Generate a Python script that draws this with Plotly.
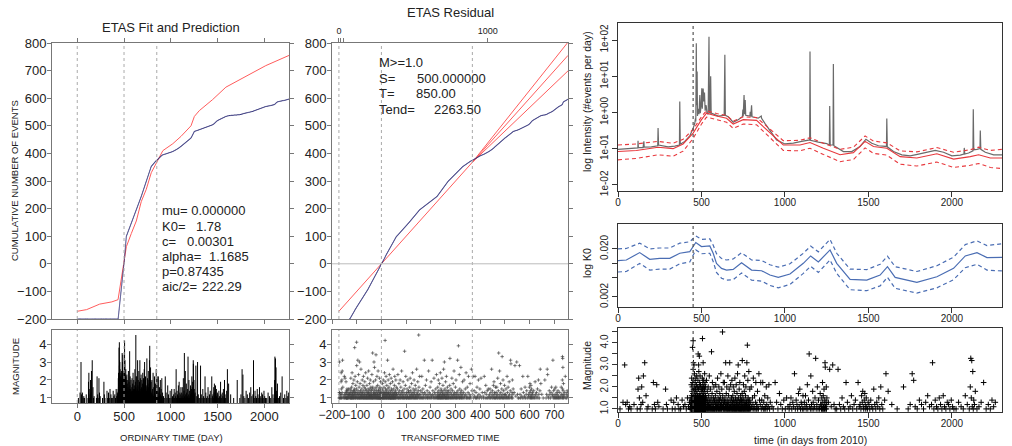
import numpy as np
import plotly.graph_objects as go

FONT = "Liberation Sans, Arial, Helvetica, sans-serif"
W, H = 1012, 446

# ---------------- event catalogue (time in days from 2010, magnitude) ----------------
t_pre = [12, 30, 40, 46, 55, 63, 70, 78, 96,
         115, 120, 124, 128, 133, 138, 142, 148, 152, 160,
         168, 174, 180, 205, 212, 218, 224, 232, 238, 245,
         270, 285, 290, 296, 318, 325, 334, 342, 350, 360,
         365, 375, 384, 392, 401, 409, 416, 422, 428, 432,
         435]
m_pre = [1.0, 1.3, 3.0, 1.2, 1.3, 1.0, 1.1, 1.0, 1.2,
         1.0, 1.9, 2.4, 1.5, 1.0, 1.2, 2.0, 1.3, 2.5, 3.1,
         1.6, 1.0, 1.1, 1.0, 2.2, 1.2, 1.0, 2.1, 1.3, 1.1,
         1.0, 1.9, 1.2, 1.0, 1.4, 1.0, 1.3, 1.0, 1.5, 1.2,
         1.0, 1.0, 1.4, 1.1, 1.2, 1.0, 1.5, 1.1, 1.3, 1.0,
         1.2]

t_swarm = [437.1, 437.5, 437.8, 438.0, 438.4, 438.7, 439.0, 439.4, 439.6, 439.9,
           440.3, 440.5, 440.9, 441.2, 441.4, 441.8, 442.1, 442.4, 442.7, 443.0,
           443.4, 443.6, 444.0, 444.3, 444.5, 444.9, 445.2, 445.5, 445.8, 446.1,
           446.4, 446.6, 446.9, 447.3, 447.6, 447.8, 448.2, 448.5, 448.8, 449.2,
           449.5, 449.7, 450.0, 450.2, 450.6, 450.9, 451.3, 451.5, 451.9, 452.2,
           452.5, 452.8, 453.1, 453.5, 453.7, 454.0, 454.4, 454.6, 455.0, 455.3,
           455.6, 455.9, 456.2, 456.6, 456.9, 457.1, 457.5, 457.8, 458.1, 458.4,
           458.7, 459.1, 459.3, 459.7, 460.0, 460.3, 460.6, 460.9, 461.3, 461.5,
           461.9, 462.2, 462.4, 462.8, 463.1, 463.4, 463.7, 464.0, 464.4, 464.6,
           465.0, 465.3, 465.5, 465.9, 466.2, 466.5, 466.8, 467.1, 467.5, 467.7,
           468.1, 468.4, 468.6, 469.0, 469.3, 469.6, 469.9, 470.2, 470.6, 470.8,
           471.2, 471.5, 471.7, 472.1, 472.4, 472.7, 473.0, 473.3, 473.7, 473.9,
           474.3, 474.6, 474.8, 475.2, 475.5, 475.8, 476.1, 476.4, 476.8, 477.0,
           477.4, 477.7, 477.9, 478.3, 478.6, 478.9, 479.2, 479.5, 479.9, 480.1,
           480.5, 480.8, 481.0, 481.4, 481.7, 482.0, 482.3, 482.6, 483.0, 483.2,
           483.6, 483.9, 484.1, 484.5, 484.8, 485.1, 485.4, 485.7, 486.1, 486.3,
           486.7, 487.0, 487.2, 487.6, 487.9, 488.2, 488.5, 488.8, 489.2, 489.4,
           489.8, 490.1, 490.3, 490.7, 491.0, 491.3, 491.6, 491.9, 492.3, 492.5,
           492.9, 493.2, 493.4, 493.8, 494.1, 494.4, 494.7, 495.0, 495.4, 495.6,
           496.0, 496.3, 496.5, 496.9, 497.2, 497.5, 497.8, 498.1, 498.5, 499.2]
m_swarm = [1.2, 1.0, 1.5, 1.1, 1.0, 1.3, 2.1, 1.0, 1.4, 1.2,
           1.0, 1.6, 1.1, 1.0, 2.4, 1.2, 1.0, 1.3, 1.1, 1.8,
           1.0, 1.2, 1.4, 1.0, 1.1, 2.0, 1.3, 1.0, 1.5, 1.2,
           3.8, 1.4, 1.0, 2.2, 1.1, 1.3, 1.0, 1.7, 1.2, 1.0,
           1.1, 1.5, 4.1, 2.8, 1.3, 1.0, 1.9, 1.2, 1.0, 3.1,
           1.4, 1.0, 1.2, 2.3, 1.1, 1.0, 1.6, 1.3, 1.0, 3.0,
           1.2, 1.0, 1.8, 1.1, 1.4, 1.0, 1.2, 2.6, 1.0, 1.3,
           1.1, 1.0, 1.5, 1.2, 2.0, 1.0, 1.3, 1.1, 1.7, 1.0,
           1.2, 2.2, 1.0, 1.4, 1.1, 1.0, 1.6, 1.2, 1.0, 1.9,
           1.3, 1.0, 1.1, 1.5, 2.4, 1.0, 1.2, 1.0, 1.4, 1.1,
           1.0, 1.7, 1.2, 1.0, 1.3, 2.1, 1.0, 1.1, 1.5, 1.2,
           1.0, 1.3, 2.5, 1.1, 1.0, 1.4, 1.2, 1.0, 1.8, 1.1,
           1.2, 1.0, 1.5, 2.0, 1.1, 1.0, 1.3, 1.6, 1.0, 1.2,
           1.1, 1.4, 1.0, 1.2, 2.3, 1.0, 1.1, 1.5, 1.0, 3.5,
           1.6, 1.0, 1.2, 1.1, 1.9, 1.0, 1.3, 1.2, 3.0, 1.4,
           1.0, 1.2, 2.7, 1.1, 1.0, 1.5, 1.3, 1.0, 1.2, 2.0,
           1.1, 1.0, 3.4, 1.6, 1.2, 1.0, 1.4, 1.1, 2.2, 1.0,
           1.3, 1.0, 1.2, 1.7, 1.0, 1.1, 2.5, 1.2, 1.0, 1.4,
           1.0, 1.5, 1.1, 1.0, 1.3, 2.1, 1.0, 1.2, 1.6, 1.0,
           1.2, 1.0, 1.4, 1.1, 1.9, 1.0, 1.3, 1.0, 1.2, 1.5]

t_burst = [500.2, 500.5, 500.7, 501.0, 501.2, 501.5, 501.7, 501.9, 502.2, 502.5,
           502.7, 503.0, 503.2, 503.4, 503.7, 504.0, 504.2, 504.4, 504.7, 505.0,
           505.2, 505.4, 505.7, 505.9, 506.0, 506.2, 506.4, 506.7, 506.9, 507.1,
           507.3, 507.6, 507.8, 508.1, 508.3, 508.5, 508.8, 509.1, 509.3, 509.5,
           509.8, 510.0, 510.3, 510.6, 510.8, 511.0, 511.3, 511.6, 511.8, 512.0,
           512.3, 512.6, 512.8, 513.0, 513.3, 513.6, 513.8, 514.0, 514.3, 514.6,
           514.8, 515.0, 515.3, 515.6, 515.8, 516.1, 516.3, 516.5, 516.8, 517.1,
           517.3, 517.5, 517.8, 518.1, 518.3, 518.6, 518.8, 519.0, 519.3, 519.6,
           519.8, 520.1, 520.3, 520.5, 520.8, 521.1, 521.3, 521.6, 521.8, 522.0,
           522.3, 522.6, 522.8, 523.1, 523.3, 523.5, 523.8, 524.1, 524.3, 524.6]
m_burst = [1.1, 1.0, 1.3, 1.5, 1.0, 1.2, 1.8, 1.0, 1.1, 1.4,
           1.0, 2.0, 1.2, 1.0, 1.3, 1.1, 1.6, 1.0, 1.2, 2.4,
           1.0, 1.3, 1.1, 1.0, 4.2, 1.9, 1.2, 1.5, 1.0, 1.3,
           1.1, 2.2, 1.0, 1.4, 1.2, 1.0, 1.7, 1.1, 1.0, 1.3,
           1.2, 3.1, 1.0, 1.5, 1.1, 2.0, 1.0, 1.3, 1.2, 1.0,
           1.6, 1.0, 1.2, 2.3, 1.1, 1.0, 1.4, 1.2, 1.0, 1.8,
           1.0, 1.3, 1.1, 1.0, 2.1, 1.2, 1.0, 1.5, 1.1, 1.0,
           1.4, 1.0, 1.2, 1.9, 1.0, 1.1, 1.3, 2.6, 1.0, 1.2,
           1.0, 1.5, 1.1, 1.0, 1.2, 1.7, 1.0, 1.3, 2.2, 1.1,
           1.0, 1.2, 1.4, 1.0, 1.1, 2.0, 1.3, 1.0, 1.6, 1.2]

t_main = [525.8, 527.0, 528.1, 529.0, 530.2, 531.5, 532.3, 533.6, 534.8, 535.7,
          536.9, 538.0, 539.2, 540.1, 541.4, 542.5, 543.3, 544.6, 545.8, 546.7,
          547.9, 549.0, 550.2, 551.3, 552.1, 553.4, 554.6, 555.5, 556.7, 557.8,
          559.0, 560.1, 561.3, 562.2, 563.5, 564.6, 565.4, 566.7, 567.9, 568.8,
          570.0, 571.2, 572.3, 573.1, 574.4, 575.6, 576.5, 577.7,
          578.9, 580.0, 581.2, 582.1, 583.3, 584.5, 585.4, 586.6, 587.8, 588.7,
          589.9, 591.0, 592.2, 593.1, 594.3, 595.5, 596.4, 597.6, 598.8, 599.7,
          600.9, 602.0, 603.2, 604.1, 605.3, 606.5, 607.4, 608.6, 609.8, 610.7,
          611.9, 613.0, 614.2, 615.1, 616.3, 617.5, 618.4, 619.6, 620.8, 621.7,
          622.9, 624.0, 625.2, 626.1, 627.3, 628.5, 629.4, 630.6,
          631.8, 632.9, 634.1, 635.0, 636.2, 637.4, 638.3, 639.5, 640.7, 641.6,
          642.8, 643.9, 645.1, 646.0, 647.2, 648.4, 649.3, 650.5, 651.7, 652.6,
          653.8, 654.9, 656.1, 657.0, 658.2, 659.4, 660.3, 661.5, 662.7, 663.6,
          664.8, 665.9, 667.1, 668.0, 669.2, 670.4, 671.3, 672.5, 673.7, 674.6,
          675.8, 676.9, 678.1, 679.0, 680.2, 681.4, 682.3, 683.5,
          684.6, 685.5, 686.5, 687.6, 688.4, 689.5, 690.4, 691.4, 692.5, 693.3,
          694.4, 695.3, 696.3, 697.4, 698.2, 699.3, 700.2, 701.2, 702.3, 703.1,
          704.2, 705.1, 706.1, 707.2, 708.0, 709.1, 710.0, 711.0, 712.1, 712.9,
          714.0, 714.9, 715.9, 717.0, 717.8, 718.9, 719.8, 720.8, 721.9, 722.7,
          723.8, 724.7, 725.7, 726.8, 727.6, 728.7, 729.6, 730.6, 731.7, 732.5,
          733.6, 734.5, 735.5, 736.6, 737.4,
          738.6, 739.5, 740.5, 741.6, 742.4, 743.5, 744.4, 745.4, 746.5, 747.3,
          748.4, 749.3, 750.3, 751.4, 752.2, 753.3, 754.2, 755.2, 756.3, 757.1,
          758.2, 759.1, 760.1, 761.2, 762.0, 763.1, 764.0, 765.0, 766.1, 766.9,
          768.0, 768.9, 769.9, 771.0, 771.8, 772.9, 773.8, 774.8, 775.9, 776.7,
          777.8, 778.7, 779.7, 780.8, 781.6, 782.7, 783.6, 784.6, 785.7, 786.5,
          787.6, 788.5, 789.5, 790.5]
m_main = [1.2, 1.0, 1.5, 1.1, 2.3, 1.0, 1.3, 1.0, 1.8, 1.2,
          1.0, 1.4, 1.1, 2.0, 1.0, 1.2, 1.6, 1.0, 1.3, 2.5,
          1.1, 1.0, 1.4, 1.2, 1.0, 1.9, 1.1, 1.0, 1.3, 1.5,
          1.0, 3.6, 1.2, 1.0, 1.7, 1.1, 2.2, 1.0, 1.3, 1.0,
          1.2, 1.5, 1.0, 1.1, 2.0, 1.3, 1.0, 1.4,
          1.0, 1.3, 1.1, 1.0, 1.6, 1.2, 2.1, 1.0, 1.4, 1.1,
          1.0, 1.2, 1.8, 1.0, 1.3, 1.1, 2.4, 1.0, 1.2, 1.5,
          1.1, 1.0, 1.3, 2.0, 1.0, 1.2, 1.4, 1.0, 1.7, 1.1,
          1.0, 1.5, 1.2, 1.0, 2.6, 1.1, 1.3, 1.0, 1.2, 1.9,
          1.0, 1.4, 1.1, 4.5, 1.6, 1.2, 1.0, 2.2,
          1.2, 1.0, 1.4, 1.1, 1.0, 2.2, 1.3, 1.0, 1.5, 1.2,
          1.0, 1.1, 3.1, 1.3, 1.0, 1.7, 1.2, 1.0, 2.0, 1.1,
          1.4, 1.0, 1.2, 1.0, 2.5, 1.1, 1.3, 1.0, 1.6, 1.2,
          1.0, 1.9, 1.1, 1.0, 3.1, 1.2, 1.4, 1.0, 1.1, 2.1,
          1.0, 1.3, 1.2, 1.0, 1.5, 1.1, 2.3, 1.0,
          1.0, 1.3, 1.1, 1.6, 1.0, 1.2, 2.0, 1.0, 1.4, 1.1,
          1.2, 1.0, 1.8, 1.1, 1.0, 1.3, 2.4, 1.0, 1.2, 1.5,
          1.0, 1.1, 1.4, 1.0, 2.1, 1.2, 1.0, 1.3, 1.1, 1.7,
          1.0, 1.2, 2.6, 1.0, 1.4, 1.1, 3.0, 1.2, 1.0, 1.5,
          1.1, 1.0, 1.9, 1.3, 1.0, 1.2, 2.2, 1.0, 1.1, 1.4,
          1.0, 1.6, 1.2, 1.0, 1.3,
          1.1, 1.0, 1.4, 1.2, 1.0, 1.7, 3.2, 1.1, 1.0, 1.3,
          1.5, 1.0, 1.2, 2.1, 1.0, 1.1, 1.4, 1.0, 1.8, 1.2,
          1.0, 2.5, 1.1, 1.3, 1.0, 1.2, 1.6, 1.0, 2.0, 1.1,
          1.0, 1.3, 1.2, 1.0, 3.1, 1.4, 1.1, 3.9, 1.0, 1.2,
          2.3, 1.0, 1.5, 1.1, 1.0, 1.3, 2.7, 1.2, 1.0, 1.4,
          1.1, 1.0, 1.9, 1.2]

t_late = [793, 795.5, 798, 800.6, 803, 805.4, 808, 810.5, 813, 815.6,
          818, 820.5, 823, 825.6, 828, 830.7, 833, 835.5, 838, 841, 844, 847.5,
          852, 855, 858, 861, 864, 867, 870, 873, 876, 879,
          882, 885, 888, 891, 894, 897, 900, 904, 908, 912,
          922, 930, 941, 950, 958, 967, 975, 984, 993, 1002, 1010, 1018,
          1025, 1030, 1036, 1041, 1047, 1052, 1057, 1062, 1067, 1072,
          1076, 1081, 1085, 1089, 1093, 1097, 1101, 1104, 1108,
          1113, 1116, 1120, 1123, 1127, 1130, 1134, 1137, 1141, 1145,
          1148, 1152, 1155, 1159, 1162, 1166, 1169, 1173, 1176, 1180,
          1184, 1187, 1191, 1194, 1198, 1201, 1205, 1208, 1211, 1214,
          1217.5, 1219, 1220.5, 1222, 1223.5, 1225, 1226.5, 1228, 1229.5, 1231,
          1232.5, 1234, 1235.5, 1237, 1238.5, 1240, 1241.5, 1243, 1244.5, 1246,
          1247.5, 1249, 1250, 1251,
          1260, 1268, 1277, 1286, 1294, 1301,
          1310, 1318, 1326, 1334, 1342, 1350, 1358, 1366, 1374, 1382,
          1390, 1398, 1406, 1414, 1422, 1430, 1438, 1445,
          1450, 1455, 1459, 1463, 1466, 1469, 1472, 1475, 1478, 1481,
          1484, 1487, 1490, 1494, 1498, 1503, 1508, 1514, 1520, 1526,
          1532, 1538, 1544, 1550, 1556, 1562, 1568, 1574, 1580, 1586,
          1597, 1605, 1618, 1640, 1672, 1710,
          1738, 1750, 1762, 1771, 1780, 1792, 1805, 1818, 1830, 1843, 1855, 1866,
          1878, 1884, 1892, 1900, 1908, 1916, 1924, 1932, 1940, 1948,
          1956, 1964, 1972, 1980, 1988, 1996, 2004, 2012,
          2025, 2040, 2055, 2068, 2080, 2092, 2104, 2110, 2113, 2116,
          2119, 2122, 2125, 2128, 2131, 2135, 2140, 2150, 2162, 2175,
          2190, 2205, 2218, 2230, 2240, 2250, 2260]
m_late = [1.0, 1.3, 2.0, 1.1, 1.0, 1.5, 1.2, 2.4, 1.0, 1.1,
          1.6, 1.0, 1.3, 2.2, 1.0, 1.2, 1.0, 1.8, 1.1, 1.0, 2.6, 1.4,
          1.2, 2.2, 1.0, 1.4, 1.1, 2.2, 1.0, 1.3, 1.0, 1.6,
          1.1, 1.0, 2.0, 1.2, 1.0, 1.5, 1.1, 2.1, 1.0, 1.3,
          1.1, 1.0, 2.2, 1.3, 1.0, 1.7, 1.2, 1.0, 1.4, 1.0, 1.5, 1.1,
          1.0, 1.2, 1.5, 1.0, 1.3, 1.1, 2.6, 1.0, 1.4, 1.2,
          1.0, 1.7, 1.1, 1.9, 1.0, 1.3, 1.2, 1.0, 1.6,
          1.0, 1.3, 1.1, 1.6, 1.0, 1.2, 2.1, 1.0, 1.4, 3.5,
          1.1, 1.0, 2.5, 1.2, 1.0, 1.8, 1.3, 1.0, 1.1, 1.5,
          3.3, 1.0, 1.2, 2.0, 1.0, 1.4, 1.1, 1.0, 1.7, 1.2,
          1.2, 1.0, 1.5, 1.1, 1.0, 2.2, 1.3, 1.0, 1.6, 1.1,
          1.0, 1.9, 1.2, 1.0, 1.4, 3.1, 2.9, 1.1, 1.0, 1.3,
          2.0, 1.0, 1.2, 1.5,
          1.3, 2.8, 1.1, 3.0, 1.2, 1.0,
          1.0, 2.8, 1.2, 1.0, 1.5, 1.1, 1.0, 2.2, 1.3, 1.0,
          1.1, 1.6, 1.0, 1.2, 1.4, 1.0, 2.2, 1.1,
          1.2, 1.0, 1.6, 1.3, 1.8, 1.1, 1.0, 1.4, 1.7, 1.2,
          1.0, 1.5, 1.1, 1.0, 1.3, 1.2, 1.0, 1.4, 1.1, 1.0,
          1.9, 1.2, 1.0, 1.3, 1.1, 1.5, 1.0, 2.0, 1.2, 1.0,
          1.4, 2.6, 1.8, 1.2, 1.0, 2.0,
          1.0, 1.2, 2.6, 2.3, 1.1, 1.0, 1.4, 1.2, 1.0, 1.3, 1.6, 1.1,
          1.2, 3.1, 1.0, 1.4, 1.1, 1.0, 1.5, 1.2, 1.0, 1.6,
          1.1, 1.0, 1.3, 1.2, 1.0, 1.4, 1.1, 1.0,
          1.0, 1.3, 1.1, 1.0, 1.6, 1.2, 1.0, 2.0, 3.3, 1.5,
          3.2, 1.1, 2.7, 1.0, 1.4, 1.2, 1.8, 1.0, 1.1, 1.3,
          2.2, 1.0, 1.2, 1.0, 1.4, 1.1, 1.3]

# fitted ETAS compensator (expected cumulative number, relative to S)
lam_t = [0, 100, 240, 370, 436, 448, 470, 496, 500, 525, 578, 631, 684, 738, 791, 850,
         915, 1021, 1110, 1216, 1252, 1305, 1447, 1589, 1731, 1873, 2015, 2263.5]
lam_v = [-172, -166, -146, -138, -130, -105, -55, -5, 0, 62, 110, 155, 225, 270, 330, 368,
         410, 435, 462, 500, 534, 555, 595, 640, 665, 692, 718, 755]

# model parameters / constants
S_TIME, T_TIME, T_END = 500.0, 850.0, 2263.5
RES_X_START = -200       # left end of transformed-time axis
RES_X_END = 755          # right end of transformed-time axis
RES_UPPER_END = 803      # upper bound line value at RES_X_END
RES_LOWER_END = 699      # lower bound line value at RES_X_END
top_tick_times = [0, 100, 200, 1000]
top_tick_labels = ["0", "", "", "1000"]
fit_marks = [0, 500, 850]

# right panels: intensity (log10, events/day)
gray_t = [0, 60, 110, 119, 120, 122, 150, 155, 157, 200, 238, 240, 243, 300, 340, 368, 370, 373,
          400, 430, 450, 460, 464, 466, 469, 471, 474, 476, 480, 485, 490, 493, 498, 502, 505,
          510, 514, 518, 522, 528, 533, 540, 545, 548, 552, 555, 558, 600, 636, 640, 643, 660,
          690, 720, 745, 748, 750, 755, 758, 762, 765, 790, 792, 795, 800, 803, 840, 858, 860,
          880, 910, 950, 1000, 1050, 1100, 1148, 1150, 1153, 1200, 1250, 1266, 1268, 1271,
          1288, 1290, 1293, 1350, 1400, 1450, 1485, 1520, 1560, 1608, 1610, 1613, 1650, 1700,
          1750, 1800, 1900, 1950, 2000, 2050, 2072, 2074, 2077, 2100, 2126, 2128, 2131, 2150,
          2168, 2170, 2173, 2200, 2250, 2300]
gray_lv = [-1.02, -1.01, -1.0, -0.98, -0.78, -0.97, -0.97, -0.8, -0.96, -0.95, -0.92, -0.43,
           -0.9, -0.95, -0.93, -0.9, 0.30, -0.88, -0.8, -0.65, -0.44, -0.3, -0.16, -0.25, 1.91,
           0.2, 1.13, -0.1, 0.1, -0.05, 0.48, -0.02, 0.2, 0.67, 0.1, 0.66, 0.3, 0.55, 0.05, 0.2,
           -0.02, -0.05, 2.09, 0.0, -0.03, 1.0, -0.02, -0.1, -0.08, 1.59, -0.08, -0.12, -0.27,
           -0.2, -0.12, 0.08, -0.1, 0.48, -0.05, 0.34, -0.08, -0.1, 0.02, -0.12, 0.2, -0.12,
           -0.16, -0.1, -0.16, -0.3, -0.5, -0.76, -0.87, -0.85, -0.8, -0.76, 1.68, -0.77, -0.82,
           -0.86, -0.9, 0.18, -0.9, -0.9, 1.34, -0.92, -1.08, -1.08, -0.94, -0.74, -0.85, -0.92,
           -0.94, -0.17, -0.95, -1.08, -1.17, -1.2, -1.15, -1.05, -1.1, -1.2, -1.18, -1.15, -0.98,
           -1.15, -1.12, -1.06, 0.09, -1.03, -1.02, -1.0, -0.5, -1.02, -1.1, -1.17, -1.17]
mu_t = [0, 110, 240, 330, 390, 450, 500, 530, 590, 650, 690, 750, 830, 910, 990, 1090, 1150,
        1230, 1330, 1410, 1480, 1530, 1610, 1690, 1790, 1910, 2010, 2110, 2160, 2230, 2300]
mu_lv = [-1.08, -1.05, -0.96, -1.0, -0.87, -0.57, -0.2, -0.02, -0.1, -0.16, -0.32, -0.2, -0.22,
         -0.57, -0.9, -0.9, -0.83, -0.99, -1.17, -1.11, -0.8, -0.94, -0.99, -1.22, -1.26, -1.14,
         -1.29, -1.22, -1.17, -1.26, -1.26]
mu_hi_lv = [-0.9, -0.87, -0.8, -0.85, -0.74, -0.47, -0.12, 0.05, -0.03, -0.08, -0.24, -0.12,
            -0.14, -0.47, -0.78, -0.77, -0.7, -0.85, -1.02, -0.96, -0.65, -0.79, -0.84, -1.06,
            -1.09, -0.97, -1.1, -1.03, -0.96, -1.05, -1.02]
mu_lo_lv = [-1.31, -1.27, -1.17, -1.21, -1.07, -0.72, -0.32, -0.13, -0.2, -0.27, -0.44, -0.32,
            -0.34, -0.7, -1.05, -1.06, -0.99, -1.16, -1.36, -1.3, -0.98, -1.13, -1.18, -1.43,
            -1.48, -1.37, -1.52, -1.46, -1.41, -1.52, -1.55]

# K0 (log10)
k0_t = [0, 50, 130, 190, 250, 310, 370, 430, 466, 500, 550, 570, 590, 620, 650, 690, 740, 800,
        860, 910, 960, 1030, 1110, 1154, 1200, 1270, 1310, 1390, 1490, 1570, 1614, 1660, 1790,
        1910, 2010, 2080, 2150, 2210, 2304]
k0_lv = [-1.944, -1.930, -1.776, -1.916, -1.895, -1.895, -1.790, -1.755, -1.566, -1.650, -1.636,
         -1.790, -2.000, -2.105, -2.140, -2.126, -1.986, -2.140, -2.154, -2.244, -2.293, -2.223,
         -2.000, -1.846, -1.972, -1.720, -2.000, -2.335, -2.349, -2.244, -2.070, -2.293, -2.398,
         -2.279, -2.105, -1.846, -1.776, -1.881, -1.874]
k0_hi_lv = [-1.70, -1.69, -1.58, -1.70, -1.68, -1.68, -1.58, -1.55, -1.43, -1.50, -1.49, -1.62,
            -1.80, -1.90, -1.93, -1.91, -1.78, -1.93, -1.94, -2.03, -2.08, -2.01, -1.79, -1.64,
            -1.76, -1.50, -1.79, -2.12, -2.13, -2.02, -1.85, -2.07, -2.17, -2.05, -1.87, -1.61,
            -1.53, -1.63, -1.59]
k0_lo_lv = [-2.18, -2.17, -2.00, -2.14, -2.12, -2.12, -2.01, -1.97, -1.72, -1.80, -1.79, -1.96,
            -2.19, -2.31, -2.35, -2.34, -2.20, -2.35, -2.37, -2.46, -2.51, -2.44, -2.21, -2.06,
            -2.19, -1.93, -2.21, -2.55, -2.57, -2.47, -2.29, -2.52, -2.62, -2.51, -2.34, -2.09,
            -2.02, -2.14, -2.16]
change_point = 450

# ---------------- derived series ----------------
times = np.array(t_pre + t_swarm + t_burst + t_main + t_late, dtype=float)
mags = np.array(m_pre + m_swarm + m_burst + m_main + m_late, dtype=float)
assert len(times) == len(mags), (len(times), len(mags))
order = np.argsort(times, kind="stable")
times, mags = times[order], mags[order]
n = len(times)
n_rel = np.arange(1, n + 1) - np.sum(times <= S_TIME)
tau = np.interp(times, lam_t, lam_v)

# ---------------- geometry ----------------
def xdom(a, b):
    return [a / W, b / W]

def ydom(top, bot):
    return [1 - bot / H, 1 - top / H]

LEFT_X, MID_X, RIGHT_X = (52, 289), (332, 568), (618, 1002)
TOP_Y, BOT_Y = (43, 319), (330, 403)
E_Y, F_Y, G_Y = (23, 191), (224, 307), (328, 412)

RED_L, BLUE_L = "#ff5c5c", "#2f2f78"
RED_R, BLUE_R, GRAY_R = "#e8383d", "#4a6db3", "#6a6a6a"
RES_RANGE = [RES_X_START, RES_X_END]

fig = go.Figure()

# A: cumulative vs ordinary time
fig.add_trace(go.Scatter(x=lam_t, y=lam_v, mode="lines", line=dict(color=RED_L, width=1),
                         xaxis="x", yaxis="y", hoverinfo="skip"))
a_x = np.concatenate([[0], times, [T_END]])
a_y = np.concatenate([[n_rel[0] - 1], n_rel, [n_rel[-1]]])
fig.add_trace(go.Scatter(x=a_x, y=np.maximum(a_y, -200), mode="lines", line_shape="hv",
                         line=dict(color=BLUE_L, width=1), xaxis="x", yaxis="y", hoverinfo="skip"))

# B: magnitude bars vs ordinary time
bx = np.repeat(times, 3).astype(object)
bx[2::3] = None
by = np.column_stack([np.zeros(n), mags, np.zeros(n)]).ravel().astype(object)
by[2::3] = None
fig.add_trace(go.Scatter(x=bx, y=by, mode="lines", line=dict(color="black", width=1),
                         xaxis="x2", yaxis="y2", hoverinfo="skip"))

# C: cumulative vs transformed time
tau0 = float(np.interp(0, lam_t, lam_v))
tauT = float(np.interp(T_TIME, lam_t, lam_v))
fig.add_trace(go.Scatter(x=[tau0, RES_X_END], y=[tau0, RES_X_END], mode="lines",
                         line=dict(color=RED_L, width=1), xaxis="x3", yaxis="y3", hoverinfo="skip"))
for yend in (RES_UPPER_END, RES_LOWER_END):
    fig.add_trace(go.Scatter(x=[tauT, RES_X_END], y=[tauT, yend], mode="lines",
                             line=dict(color=RED_L, width=1), xaxis="x3", yaxis="y3",
                             hoverinfo="skip"))
c_x = np.concatenate([[tau0], tau])
c_y = np.concatenate([[n_rel[0] - 1], n_rel])
fig.add_trace(go.Scatter(x=c_x, y=c_y, mode="lines", line_shape="hv",
                         line=dict(color=BLUE_L, width=1), xaxis="x3", yaxis="y3", hoverinfo="skip"))
top_pos = np.interp(top_tick_times, lam_t, lam_v)
fig.add_trace(go.Scatter(x=[top_pos[0]], y=[0], mode="markers", marker=dict(opacity=0),
                         xaxis="x4", yaxis="y3", hoverinfo="skip"))

# D: magnitude vs transformed time
fig.add_trace(go.Scatter(x=tau, y=mags, mode="markers",
                         marker=dict(symbol="cross-thin", size=2.5, color="#444",
                                     line=dict(width=0.7, color="#444")),
                         xaxis="x5", yaxis="y5", hoverinfo="skip"))

# E: intensity
def p10(v):
    return np.power(10.0, np.array(v, dtype=float))

fig.add_trace(go.Scatter(x=gray_t, y=p10(gray_lv), mode="lines", line=dict(color=GRAY_R, width=1.2),
                         xaxis="x6", yaxis="y6", hoverinfo="skip"))
fig.add_trace(go.Scatter(x=mu_t, y=p10(mu_lv), mode="lines", line=dict(color=RED_R, width=1.1),
                         xaxis="x6", yaxis="y6", hoverinfo="skip"))
for arr in (mu_hi_lv, mu_lo_lv):
    fig.add_trace(go.Scatter(x=mu_t, y=p10(arr), mode="lines",
                             line=dict(color=RED_R, width=1.1, dash="4px,3px"),
                             xaxis="x6", yaxis="y6", hoverinfo="skip"))

# F: K0
fig.add_trace(go.Scatter(x=k0_t, y=p10(k0_lv), mode="lines", line=dict(color=BLUE_R, width=1.2),
                         xaxis="x7", yaxis="y7", hoverinfo="skip"))
for arr in (k0_hi_lv, k0_lo_lv):
    fig.add_trace(go.Scatter(x=k0_t, y=p10(arr), mode="lines",
                             line=dict(color=BLUE_R, width=1.2, dash="4px,3px"),
                             xaxis="x7", yaxis="y7", hoverinfo="skip"))

# G: magnitudes
fig.add_trace(go.Scatter(x=times, y=mags, mode="markers",
                         marker=dict(symbol="cross-thin", size=4, color="black",
                                     line=dict(width=1, color="black")),
                         xaxis="x8", yaxis="y8", hoverinfo="skip"))

# ---------------- axes ----------------
LCOL = "#777"
left_common = dict(showline=True, linecolor=LCOL, linewidth=1, ticks="outside", ticklen=4,
                   tickcolor=LCOL, showgrid=False, zeroline=False, automargin=False,
                   tickangle=0, tickfont=dict(family=FONT, size=13, color="#222"))
right_common = dict(showline=True, linecolor="#333", linewidth=1, mirror=True, ticks="outside",
                    ticklen=5, tickcolor="#333", showgrid=False, zeroline=False, automargin=False,
                    tickfont=dict(family=FONT, size=10, color="#222"))

ord_ticks = [0, 500, 1000, 1500, 2000]
tr_ticks = list(range(-200, 701, 100))
cum_ticks = list(range(-200, 801, 100))

layout = dict(template="none", width=W, height=H, margin=dict(l=0, r=0, t=0, b=0, pad=0),
              paper_bgcolor="white", plot_bgcolor="white", showlegend=False,
              font=dict(family=FONT, color="#222"))

layout["xaxis"] = dict(left_common, domain=xdom(*LEFT_X), anchor="y", range=[-270, T_END],
                       tickvals=ord_ticks, showticklabels=False, mirror="ticks")
layout["yaxis"] = dict(left_common, domain=ydom(*TOP_Y), anchor="x", range=[-200, 800],
                       tickvals=cum_ticks, mirror="ticks", ticklabelstandoff=-2)
layout["xaxis2"] = dict(left_common, domain=xdom(*LEFT_X), anchor="y2", range=[-270, T_END],
                        tickvals=ord_ticks, mirror=True, ticklabelstandoff=-3)
layout["yaxis2"] = dict(left_common, domain=ydom(*BOT_Y), anchor="x2", range=[0.72, 4.78],
                        tickvals=[1, 2, 3, 4], mirror="ticks", ticklabelstandoff=-2)
layout["xaxis3"] = dict(left_common, domain=xdom(*MID_X), anchor="y3", range=RES_RANGE,
                        tickvals=tr_ticks, showticklabels=False, mirror=True)
layout["yaxis3"] = dict(left_common, domain=ydom(*TOP_Y), anchor="x3", range=[-200, 800],
                        tickvals=cum_ticks, mirror="ticks", ticklabelstandoff=-2)
layout["xaxis4"] = dict(overlaying="x3", side="top", anchor="y3", range=RES_RANGE,
                        tickvals=list(top_pos), ticktext=top_tick_labels, ticks="outside",
                        ticklen=4, tickcolor=LCOL, showline=False, showgrid=False, zeroline=False,
                        automargin=False, tickangle=0,
                        tickfont=dict(family=FONT, size=9, color="#222"))
layout["xaxis5"] = dict(left_common, domain=xdom(*MID_X), anchor="y5", range=RES_RANGE,
                        tickvals=tr_ticks, mirror=True, ticklabelstandoff=-3,
                        tickfont=dict(family=FONT, size=12, color="#222"))
layout["yaxis5"] = dict(left_common, domain=ydom(*BOT_Y), anchor="x5", range=[0.72, 4.78],
                        tickvals=[1, 2, 3, 4], mirror="ticks", ticklabelstandoff=-2)

layout["xaxis6"] = dict(right_common, domain=xdom(*RIGHT_X), anchor="y6", range=[0, 2300],
                        tickvals=ord_ticks, tickangle=0, ticklabelstandoff=-3)
layout["yaxis6"] = dict(right_common, domain=ydom(*E_Y), anchor="x6", type="log",
                        range=[-2.17, 2.47], tickvals=[0.01, 0.1, 1, 10, 100],
                        ticktext=["1e-02", "1e-01", "1e+00", "1e+01", "1e+02"], tickangle=-90)
layout["xaxis7"] = dict(right_common, domain=xdom(*RIGHT_X), anchor="y7", range=[0, 2300],
                        tickvals=ord_ticks, tickangle=0, ticklabelstandoff=-3)
layout["yaxis7"] = dict(right_common, domain=ydom(*F_Y), anchor="x7", type="log",
                        range=[-2.91, -1.18], tickvals=[0.002, 0.005, 0.01, 0.02],
                        ticktext=["0.002", "", "", "0.020"], tickangle=-90)
layout["xaxis8"] = dict(right_common, domain=xdom(*RIGHT_X), anchor="y8", range=[0, 2300],
                        tickvals=ord_ticks, tickangle=0, ticklabelstandoff=-3)
layout["yaxis8"] = dict(right_common, domain=ydom(*G_Y), anchor="x8", range=[0.86, 4.68],
                        tickvals=[1, 1.5, 2, 2.5, 3, 3.5, 4, 4.5],
                        ticktext=["1.0", "", "2.0", "", "3.0", "", "4.0", ""], tickangle=-90)

# ---------------- reference lines ----------------
shapes = []
for xr, yr in (("x", "y"), ("x2", "y2")):
    for v in fit_marks:
        shapes.append(dict(type="line", xref=xr, yref=yr + " domain", x0=v, x1=v, y0=0, y1=1,
                           line=dict(color="#aaa", width=1, dash="dot")))
tr_marks = np.interp(fit_marks, lam_t, lam_v)
for xr, yr in (("x3", "y3"), ("x5", "y5")):
    for v in tr_marks:
        shapes.append(dict(type="line", xref=xr, yref=yr + " domain", x0=float(v), x1=float(v),
                           y0=0, y1=1, line=dict(color="#aaa", width=1, dash="dot")))
shapes.append(dict(type="line", xref="x3 domain", yref="y3", x0=0, x1=1, y0=0, y1=0,
                   line=dict(color="#bbb", width=1)))
for xr, yr in (("x6", "y6"), ("x7", "y7"), ("x8", "y8")):
    shapes.append(dict(type="line", xref=xr, yref=yr + " domain", x0=change_point,
                       x1=change_point, y0=0, y1=1, line=dict(color="#555", width=1.2, dash="dot")))
layout["shapes"] = shapes

# ---------------- text ----------------
ann = []

def text(px, py, s, size=13, xanchor="left", angle=0, color="#222"):
    ann.append(dict(x=px / W, y=1 - py / H, xref="paper", yref="paper", text=s, showarrow=False,
                    xanchor=xanchor, yanchor="middle", textangle=angle,
                    font=dict(family=FONT, size=size, color=color)))

text(171, 28, "ETAS Fit and Prediction", 13, "center")
text(450, 13, "ETAS Residual", 13, "center")
text(15, 181, "CUMULATIVE NUMBER OF EVENTS", 9.5, "center", -90)
text(15, 367, "MAGNITUDE", 9.5, "center", -90)
text(171, 437, "ORDINARY TIME (DAY)", 9.5, "center")
text(450, 437, "TRANSFORMED TIME", 9.5, "center")

text(160, 211, "mu= 0.000000")
text(160, 226, "K0=")
text(194, 226, "1.78")
text(160, 241, "c=")
text(185, 241, "0.00301")
text(160, 256, "alpha=")
text(207, 256, "1.1685")
text(160, 271, "p=0.87435")
text(160, 286, "aic/2=")
text(200, 286, "222.29")

text(377, 63, "M>=1.0")
text(377, 79, "S=")
text(415, 79, "500.000000")
text(377, 94, "T=")
text(414, 94, "850.00")
text(377, 109, "Tend=")
text(432, 109, "2263.50")

text(587, 102, "log Intensity (#events per day)", 10.5, "center", -90)
text(587, 263, "log K0", 10.5, "center", -90)
text(587, 366, "Magnitude", 10.5, "center", -90)
text(810, 440, "time (in days from 2010)", 10.5, "center")
layout["annotations"] = ann

fig.update_layout(**layout)
fig.write_html("out.html", config={"displayModeBar": False},
               post_script="document.body.style.margin='0';document.body.style.padding='0';")
